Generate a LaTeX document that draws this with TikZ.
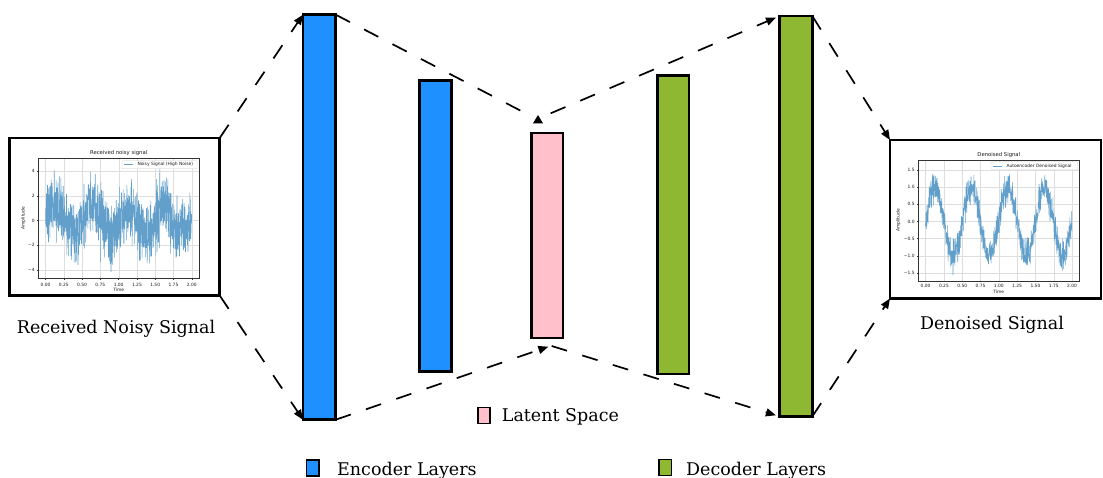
\documentclass[tikz,border=0pt]{standalone}
\usepackage{fontspec}
\setmainfont{DejaVu Serif}
\newfontfamily\plotfont{DejaVu Sans}
\usetikzlibrary{arrows.meta}

\definecolor{encblue}{RGB}{30,144,255}
\definecolor{decgreen}{RGB}{143,184,50}
\definecolor{latpink}{RGB}{255,192,203}
\definecolor{sigblue}{RGB}{98,160,203}
\definecolor{gridgray}{RGB}{222,222,222}
\definecolor{axisgray}{RGB}{50,50,50}
\definecolor{keygray}{RGB}{205,205,205}

\tikzset{
  layerbar/.style={draw=black, line width=2.7pt, inner sep=0pt, outer sep=0pt},
  panel/.style={draw=black, line width=2.8pt, fill=white, inner sep=0pt, outer sep=0pt},
  flowline/.style={draw=black, line width=1.7pt, dash pattern=on 16pt off 16pt},
  flow/.style={flowline, -{Triangle[length=10pt,width=8pt]}},
  keybox/.style={draw=black, line width=1.3pt, inner sep=0pt, outer sep=0pt},
  keytext/.style={anchor=base west, inner sep=0pt, font=\fontsize{17.5}{20}\selectfont},
  caption/.style={anchor=base, inner sep=0pt, font=\fontsize{17.5}{20}\selectfont},
  gridline/.style={gridgray, line width=0.3pt},
  axisframe/.style={axisgray, line width=0.35pt},
  ticktext/.style={inner sep=0pt, text=black!90, font=\plotfont\fontsize{4.4}{5}\selectfont},
  titletext/.style={inner sep=0pt, text=black!90, font=\plotfont\fontsize{5.3}{6}\selectfont},
  signal/.style={sigblue, line width=0.55pt, line join=round},
  legendframe/.style={draw=keygray, fill=white, line width=0.3pt, rounded corners=0.8pt}
}

\begin{document}
\begin{tikzpicture}[x=1pt, y=-1pt]
\useasboundingbox (0,0) rectangle (1103,478);
\pgfmathsetseed{7}

% ---------- input and output panels ----------
\node[panel, minimum width=210pt, minimum height=157.5pt] (noisy) at (114.7,216.75) {};
\node[panel, minimum width=211pt, minimum height=158.5pt] (clean) at (995.5,219.25) {};

% ---------- noisy signal plot ----------
\foreach \t in {0,0.25,...,2.01}
  \draw[gridline] ({45.6+73.05*\t},158.3) -- ({45.6+73.05*\t},278);
\foreach \v in {-4,-2,...,4}
  \draw[gridline] (38.3,{220.5-12.4*\v}) -- (199,{220.5-12.4*\v});
\begin{scope}
  \clip (38.3,158.3) rectangle (199,278);
  \draw[signal] plot[domain=0:2, samples=1000]
    ({45.6+73.05*\x},{220.5-12.4*(sin(720*\x)+1.25*(rand+rand+rand))});
\end{scope}
\draw[axisframe] (38.3,158.3) rectangle (199,278);
\foreach \t/\lab in {0/0.00,0.25/0.25,0.5/0.50,0.75/0.75,1/1.00,1.25/1.25,1.5/1.50,1.75/1.75,2/2.00}{
  \draw[axisframe] ({45.6+73.05*\t},278) -- ++(0,1.6);
  \node[ticktext, anchor=north] at ({45.6+73.05*\t},282.6) {\lab};
}
\foreach \v/\lab in {-4/−4,-2/−2,0/0,2/2,4/4}{
  \draw[axisframe] (38.3,{220.5-12.4*\v}) -- ++(-1.6,0);
  \node[ticktext, anchor=east] at (34.8,{220.5-12.4*\v}) {\lab};
}
\node[ticktext, anchor=north] at (118.65,288.3) {Time};
\node[ticktext, rotate=90] at (23.5,218.2) {Amplitude};
\node[titletext] at (118.65,153.3) {Received noisy signal};
\draw[legendframe] (122,160.7) rectangle (197,168.7);
\draw[signal, line width=0.5pt] (124.3,164.7) -- (133.3,164.7);
\node[ticktext, anchor=west] at (137.3,164.7) {Noisy Signal (High Noise)};

% ---------- denoised signal plot ----------
\foreach \t in {0,0.25,...,2.01}
  \draw[gridline] ({925.6+73.2*\t},160) -- ({925.6+73.2*\t},280.7);
\foreach \v in {-1.5,-1,...,1.6}
  \draw[gridline] (918.3,{221.5-34.3*\v}) -- (1079.3,{221.5-34.3*\v});
\begin{scope}
  \clip (918.3,160) rectangle (1079.3,280.7);
  \draw[signal] plot[domain=0:2, samples=1000]
    ({925.6+73.2*\x},{221.5-34.3*(sin(720*\x)+0.22*(rand+rand+rand))});
\end{scope}
\draw[axisframe] (918.3,160) rectangle (1079.3,280.7);
\foreach \t/\lab in {0/0.00,0.25/0.25,0.5/0.50,0.75/0.75,1/1.00,1.25/1.25,1.5/1.50,1.75/1.75,2/2.00}{
  \draw[axisframe] ({925.6+73.2*\t},280.7) -- ++(0,1.6);
  \node[ticktext, anchor=north] at ({925.6+73.2*\t},284.2) {\lab};
}
\foreach \v/\lab in {-1.5/−1.5,-1/−1.0,-0.5/−0.5,0/0.0,0.5/0.5,1/1.0,1.5/1.5}{
  \draw[axisframe] (918.3,{221.5-34.3*\v}) -- ++(-1.6,0);
  \node[ticktext, anchor=east] at (914.8,{221.5-34.3*\v}) {\lab};
}
\node[ticktext, anchor=north] at (998.8,289.6) {Time};
\node[ticktext, rotate=90] at (898.3,220.3) {Amplitude};
\node[titletext] at (998.8,154.6) {Denoised Signal};
\draw[legendframe] (991,161.8) rectangle (1077.7,169.8);
\draw[signal, line width=0.5pt] (993.3,165.8) -- (1002.3,165.8);
\node[ticktext, anchor=west] at (1006.3,165.8) {Autoencoder Denoised Signal};

% ---------- panel captions ----------
\node[caption] (noisyLabel) at (116,333.4) {Received Noisy Signal};
\node[caption] (cleanLabel) at (992,329.4) {Denoised Signal};

% ---------- encoder, latent and decoder layers ----------
\node[layerbar, fill=encblue, minimum width=32.7pt, minimum height=405pt] (enc1) at (319.35,217.2) {};
\node[layerbar, fill=encblue, minimum width=31.6pt, minimum height=291pt] (enc2) at (435.5,225.8) {};
\node[layerbar, fill=latpink, minimum width=31.7pt, minimum height=205pt] (latent) at (547.15,235.5) {};
\node[layerbar, fill=decgreen, minimum width=31.7pt, minimum height=298.7pt] (dec1) at (673.15,224.65) {};
\node[layerbar, fill=decgreen, minimum width=32.6pt, minimum height=400.5pt] (dec2) at (796,216.25) {};

% ---------- data flow ----------
\coordinate (latTopIn) at (527,114);
\coordinate (latHead) at (538,115);
\coordinate (latTopOut) at (550.7,113.3);
\coordinate (latBotIn) at (548.3,346.7);
\coordinate (latBotOut) at (551.7,346);

\draw[flow] (noisy.north east) -- (enc1.north west);
\draw[flow] (noisy.south east) -- (enc1.south west);
\draw[flowline] (enc1.north east) -- (latTopIn);
\fill (latHead) -- ++(5,8.3) -- ++(-10,0) -- cycle;
\draw[flow, shorten >=4pt] (latTopOut) -- (dec2.north west);
\draw[flow] (enc1.south east) -- (latBotIn);
\draw[flow, shorten >=4pt] (latBotOut) -- (dec2.south west);
\draw[flow] (dec2.north east) -- (clean.north west);
\draw[flow] (dec2.south east) -- (clean.south west);

% ---------- key ----------
\node[keybox, fill=latpink, minimum width=12pt, minimum height=16pt] (keyLat) at (484,415.3) {};
\node[keytext] (keyLatText) at (501.7,421.7) {Latent Space};
\node[keybox, fill=encblue, minimum width=12.6pt, minimum height=16pt] (keyEnc) at (312.6,468) {};
\node[keytext] (keyEncText) at (337,475) {Encoder Layers};
\node[keybox, fill=decgreen, minimum width=12.6pt, minimum height=15.8pt] (keyDec) at (665.3,467.6) {};
\node[keytext] (keyDecText) at (686,475) {Decoder Layers};
\end{tikzpicture}
\end{document}
